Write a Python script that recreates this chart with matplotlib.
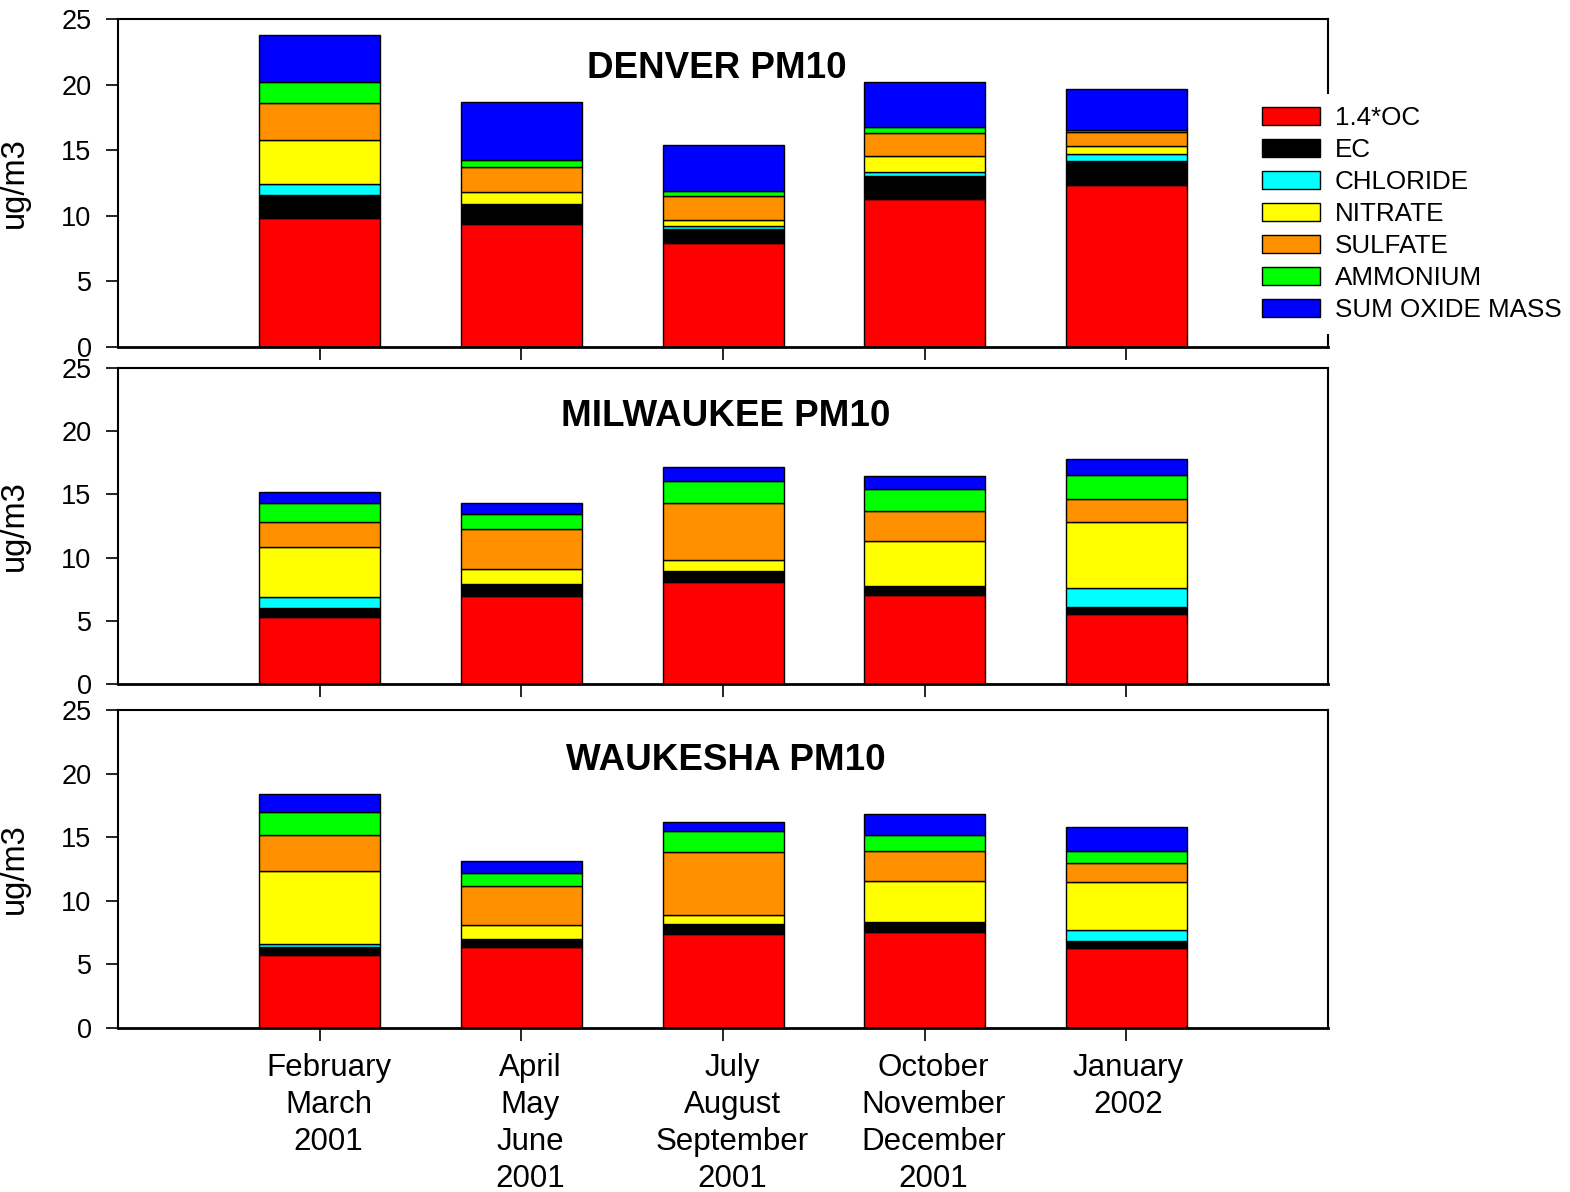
import matplotlib
matplotlib.use("Agg")
import matplotlib.pyplot as plt
import matplotlib.transforms as mtransforms
import numpy as np

plt.rcParams['font.family'] = ['Liberation Sans', 'DejaVu Sans']

periods = ["February\nMarch\n2001", "April\nMay\nJune\n2001", "July\nAugust\nSeptember\n2001",
           "October\nNovember\nDecember\n2001", "January\n2002"]
components = ["1.4*OC", "EC", "CHLORIDE", "NITRATE", "SULFATE", "AMMONIUM", "SUM OXIDE MASS"]
colors = ["#FF0000", "#000000", "#00FFFF", "#FFFF00", "#FF9100", "#00FF00", "#0000FF"]

# Component concentrations (ug/m3) per period, one list per component
denver_oc       = [9.87, 9.39, 7.92, 11.29, 12.36]
denver_ec       = [1.73, 1.40, 1.09, 1.71, 1.78]
denver_cl       = [0.84, 0.12, 0.20, 0.35, 0.58]
denver_no3      = [3.32, 0.89, 0.46, 1.19, 0.58]
denver_so4      = [2.82, 1.93, 1.83, 1.78, 1.05]
denver_nh4      = [1.60, 0.51, 0.38, 0.46, 0.17]
denver_oxide    = [3.63, 4.41, 3.55, 3.45, 3.15]

milwaukee_oc    = [5.33, 6.99, 8.10, 7.07, 5.54]
milwaukee_ec    = [0.68, 0.90, 0.84, 0.68, 0.55]
milwaukee_cl    = [0.85, 0.00, 0.00, 0.00, 1.48]
milwaukee_no3   = [3.95, 1.23, 0.84, 3.54, 5.22]
milwaukee_so4   = [1.98, 3.12, 4.51, 2.42, 1.82]
milwaukee_nh4   = [1.50, 1.21, 1.80, 1.74, 1.92]
milwaukee_oxide = [0.90, 0.90, 1.05, 1.03, 1.27]

waukesha_oc     = [5.72, 6.37, 7.42, 7.58, 6.27]
waukesha_ec     = [0.63, 0.60, 0.73, 0.78, 0.57]
waukesha_cl     = [0.29, 0.00, 0.00, 0.00, 0.87]
waukesha_no3    = [5.69, 1.13, 0.73, 3.16, 3.78]
waukesha_so4    = [2.85, 3.05, 4.96, 2.40, 1.52]
waukesha_nh4    = [1.80, 1.05, 1.65, 1.28, 0.94]
waukesha_oxide  = [1.44, 0.89, 0.70, 1.62, 1.83]

sites = [
    ("DENVER PM10", [denver_oc, denver_ec, denver_cl, denver_no3, denver_so4, denver_nh4, denver_oxide]),
    ("MILWAUKEE PM10", [milwaukee_oc, milwaukee_ec, milwaukee_cl, milwaukee_no3, milwaukee_so4, milwaukee_nh4, milwaukee_oxide]),
    ("WAUKESHA PM10", [waukesha_oc, waukesha_ec, waukesha_cl, waukesha_no3, waukesha_so4, waukesha_nh4, waukesha_oxide]),
]

W, H = 1570, 1192
fig = plt.figure(figsize=(W / 100, H / 100), dpi=100)

# axes boxes in pixels: (left, top, right, bottom)
boxes = [(118, 19, 1328, 347), (118, 368, 1328, 684), (118, 710, 1328, 1028)]
title_pos = [(0.495, 0.85), (0.502, 0.846), (0.502, 0.842)]

x = np.arange(len(periods))
axes = []
for i, ((name, series), (l, t, r, b)) in enumerate(zip(sites, boxes)):
    ax = fig.add_axes([l / W, 1 - b / H, (r - l) / W, (b - t) / H])
    bottom = np.zeros(len(periods))
    for vals, col, lab in zip(series, colors, components):
        vals = np.asarray(vals)
        ax.bar(x, vals, width=0.6, bottom=bottom, color=col, edgecolor="black",
               linewidth=1.0, label=lab)
        bottom += vals
    ax.set_xlim(-1, 5)
    ax.set_ylim(0, 25)
    ax.set_yticks([0, 5, 10, 15, 20, 25])
    ax.set_xticks(x)
    ax.tick_params(axis="both", direction="out", length=9, width=1.2, labelsize=19.5)
    ax.tick_params(axis="y", pad=10)
    ax.tick_params(axis="x", pad=9)
    ax.set_ylabel("ug/m3", fontsize=23.5)
    tx, ty = title_pos[i]
    ax.text(tx, ty, name, transform=ax.transAxes, ha="center", va="center",
            fontsize=26.5, fontweight="bold")
    for s in ax.spines.values():
        s.set_linewidth(1.5)
    ax.spines["bottom"].set_linewidth(2.0)
    if i < 2:
        ax.set_xticklabels([])
    else:
        ax.set_xticklabels(periods, fontsize=22.5, linespacing=1.3, va="top")
        # small rightward shift of the first four period labels
        for k, lbl in enumerate(ax.get_xticklabels()):
            dx = 9 / 100 if k < 4 else 2 / 100
            lbl.set_transform(lbl.get_transform() +
                              mtransforms.ScaledTranslation(dx, 0, fig.dpi_scale_trans))
    axes.append(ax)

for ax in axes:
    ax.yaxis.set_label_coords(-0.073, 0.5)

leg = axes[0].legend(loc="upper left", bbox_to_anchor=(1250 / W, 1 - 94 / H),
                     bbox_transform=fig.transFigure, frameon=True, fontsize=18.7,
                     handlelength=2.23, handleheight=0.7, handletextpad=0.58,
                     labelspacing=0.31, borderpad=0.45, borderaxespad=0)
leg.get_frame().set_facecolor("white")
leg.get_frame().set_edgecolor("none")
leg.get_frame().set_alpha(1.0)
leg.get_frame().set_boxstyle("square", pad=0)

fig.savefig("out.png", dpi=100)
